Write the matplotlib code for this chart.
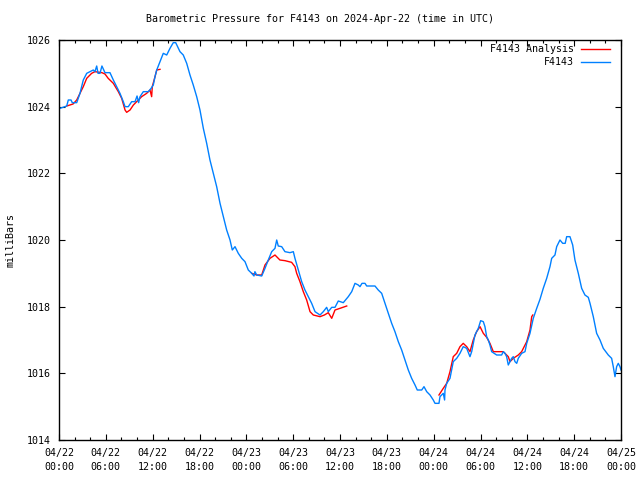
import matplotlib
matplotlib.use("Agg")
import matplotlib.pyplot as plt
from matplotlib.ticker import MultipleLocator

# hours since 2024-04-22 00:00 UTC, pressure in millibars
obs_hours = [0.13, 0.99, 1.19, 1.54, 1.7, 2.27, 2.69, 3.11, 3.55, 3.97, 4.39, 4.6, 4.83, 5.0, 5.25, 5.5,
             5.89, 6.53, 6.96, 7.39, 7.81, 8.24, 8.46, 8.88, 9.31, 9.74, 10.0, 10.2, 10.38, 10.8, 11.45,
             11.8, 12.08, 12.3, 12.52, 12.94, 13.36, 13.8, 14.22, 14.64, 14.95, 15.5, 15.92, 16.36,
             16.78, 17.2, 17.64, 18.06, 18.49, 18.92, 19.34, 19.77, 20.2, 20.63, 21.05, 21.48, 21.91,
             22.2, 22.55, 22.97, 23.41, 23.83, 24.25, 24.69, 24.98, 25.1, 25.33, 25.97, 26.39, 26.81,
             27.25, 27.67, 27.89, 28.09, 28.53, 28.95, 29.59, 30.02, 30.23, 30.66, 31.09, 31.51, 31.94,
             32.37, 32.8, 33.44, 33.86, 34.29, 34.5, 34.94, 35.36, 35.78, 36.42, 37.06, 37.5, 37.92,
             38.34, 38.56, 38.82, 39.2, 39.42, 40.48, 40.9, 41.34, 41.76, 42.19, 42.62, 43.04, 43.47,
             43.9, 44.33, 44.75, 45.18, 45.61, 45.9, 46.47, 46.76, 47.11, 47.53, 47.95, 48.17, 48.68,
             48.81, 49.23, 49.4, 49.45, 49.67, 50.09, 50.51, 50.95, 51.37, 51.79, 52.23, 52.65, 52.87,
             53.29, 53.72, 54.02, 54.36, 54.57, 54.79, 55.0, 55.21, 55.43, 56.07, 56.71, 56.92, 57.14,
             57.35, 57.56, 57.78, 57.99, 58.2, 58.42, 58.64, 58.84, 59.27, 59.7, 59.92, 60.34, 60.76,
             61.2, 61.62, 62.04, 62.48, 62.9, 63.12, 63.54, 63.76, 64.18, 64.53, 64.85, 65.04, 65.46,
             65.81, 66.1, 66.53, 66.96, 67.38, 67.81, 68.03, 68.45, 68.88, 69.31, 69.73, 70.37, 70.8,
             71.01, 71.23, 71.44, 71.65, 71.87, 72.0]
obs_mb = [1023.95, 1024.02, 1024.2, 1024.2, 1024.12, 1024.12, 1024.4, 1024.8, 1025.0, 1025.05, 1025.1,
          1025.05, 1025.22, 1025.0, 1025.0, 1025.22, 1025.02, 1025.02, 1024.8, 1024.6, 1024.4, 1024.15,
          1024.0, 1024.0, 1024.15, 1024.15, 1024.32, 1024.12, 1024.3, 1024.45, 1024.45, 1024.55,
          1024.65, 1024.9, 1025.1, 1025.35, 1025.6, 1025.55, 1025.75, 1025.92, 1025.92, 1025.65,
          1025.55, 1025.3, 1024.95, 1024.65, 1024.3, 1023.9, 1023.35, 1022.9, 1022.4, 1022.0, 1021.6,
          1021.1, 1020.7, 1020.3, 1020.0, 1019.7, 1019.8, 1019.6, 1019.45, 1019.35, 1019.1, 1019.0,
          1018.92, 1019.05, 1018.95, 1018.92, 1019.15, 1019.4, 1019.65, 1019.75, 1020.0, 1019.82,
          1019.8, 1019.65, 1019.62, 1019.65, 1019.45, 1019.1, 1018.75, 1018.5, 1018.3, 1018.1,
          1017.85, 1017.75, 1017.85, 1017.98, 1017.85, 1017.98, 1017.98, 1018.17, 1018.12, 1018.3,
          1018.45, 1018.7, 1018.65, 1018.6, 1018.7, 1018.7, 1018.62, 1018.62, 1018.5, 1018.4, 1018.1,
          1017.8, 1017.5, 1017.25, 1016.95, 1016.7, 1016.4, 1016.1, 1015.85, 1015.65, 1015.5, 1015.5,
          1015.6, 1015.45, 1015.35, 1015.2, 1015.1, 1015.1, 1015.3, 1015.4, 1015.2, 1015.5, 1015.7,
          1015.85, 1016.35, 1016.45, 1016.6, 1016.8, 1016.75, 1016.5, 1016.65, 1017.15, 1017.35,
          1017.58, 1017.55, 1017.4, 1017.1, 1017.0, 1016.85, 1016.65, 1016.55, 1016.55, 1016.65,
          1016.6, 1016.5, 1016.25, 1016.35, 1016.45, 1016.5, 1016.35, 1016.3, 1016.45, 1016.6,
          1016.65, 1016.9, 1017.2, 1017.65, 1017.95, 1018.22, 1018.55, 1018.85, 1019.2, 1019.45,
          1019.55, 1019.8, 1020.0, 1019.9, 1019.9, 1020.1, 1020.1, 1019.85, 1019.4, 1019.0, 1018.55,
          1018.35, 1018.28, 1018.1, 1017.7, 1017.2, 1017.0, 1016.75, 1016.55, 1016.45, 1016.2,
          1015.9, 1016.2, 1016.3, 1016.2, 1016.1]

ana1_hours = [0.99, 1.8, 2.27, 2.69, 3.11, 3.55, 4.18, 4.6, 5.5, 5.89, 6.3, 6.96, 7.6, 8.03, 8.46,
              8.67, 9.1, 9.53, 9.95, 10.59, 11.23, 11.66, 11.87, 11.95, 12.3, 12.52, 12.94]
ana1_mb = [1024.02, 1024.08, 1024.2, 1024.4, 1024.6, 1024.85, 1025.0, 1025.05, 1025.02, 1024.98,
           1024.85, 1024.7, 1024.45, 1024.25, 1023.9, 1023.83, 1023.9, 1024.05, 1024.15, 1024.3,
           1024.4, 1024.5, 1024.3, 1024.6, 1024.9, 1025.1, 1025.12]
ana2_hours = [24.69, 25.33, 25.97, 26.39, 27.03, 27.67, 28.3, 28.95, 29.8, 30.23, 30.45, 30.87, 31.3,
              31.73, 32.16, 32.58, 33.44, 34.0, 34.5, 34.94, 35.36, 36.0, 36.86]
ana2_mb = [1019.0, 1018.95, 1018.95, 1019.25, 1019.45, 1019.55, 1019.4, 1019.38, 1019.33, 1019.2,
           1019.0, 1018.75, 1018.45, 1018.2, 1017.85, 1017.75, 1017.7, 1017.75, 1017.82, 1017.65,
           1017.9, 1017.95, 1018.02]
ana3_hours = [48.68, 49.23, 49.67, 50.09, 50.51, 50.95, 51.37, 51.79, 52.23, 52.65, 53.07, 53.5, 53.94,
              54.36, 54.79, 55.21, 55.64, 56.92, 57.56, 57.78, 58.2, 58.84, 59.27, 59.92, 60.34, 60.56,
              60.7]
ana3_mb = [1015.35, 1015.55, 1015.7, 1016.05, 1016.5, 1016.6, 1016.8, 1016.9, 1016.8, 1016.65, 1017.0,
           1017.25, 1017.4, 1017.2, 1017.08, 1016.9, 1016.65, 1016.65, 1016.5, 1016.35, 1016.45,
           1016.55, 1016.65, 1016.95, 1017.3, 1017.7, 1017.75]

tick_hours = [0, 6, 12, 18, 24, 30, 36, 42, 48, 54, 60, 66, 72]
tick_labels = ["04/22\n00:00", "04/22\n06:00", "04/22\n12:00", "04/22\n18:00",
               "04/23\n00:00", "04/23\n06:00", "04/23\n12:00", "04/23\n18:00",
               "04/24\n00:00", "04/24\n06:00", "04/24\n12:00", "04/24\n18:00",
               "04/25\n00:00"]
y_ticks = [1014, 1016, 1018, 1020, 1022, 1024, 1026]

FS = 7.2
plt.rcParams['font.family'] = ['DejaVu Sans Mono']
plt.rcParams['font.size'] = FS

fig = plt.figure(figsize=(6.4, 4.8), dpi=100)
ax = fig.add_axes([59/640, 1-440/480, 562/640, 400/480])

red = '#ff0000'
blue = '#0080ff'
ax.plot(ana1_hours, ana1_mb, color=red, lw=1.0, label='F4143 Analysis')
ax.plot(ana2_hours, ana2_mb, color=red, lw=1.0)
ax.plot(ana3_hours, ana3_mb, color=red, lw=1.0)
ax.plot(obs_hours, obs_mb, color=blue, lw=1.0, label='F4143')

ax.set_xlim(0, 72)
ax.set_ylim(1014, 1026)
ax.set_xticks(tick_hours)
ax.set_xticklabels(tick_labels, linespacing=1.45)
ax.xaxis.set_minor_locator(MultipleLocator(2))
ax.set_yticks(y_ticks)
ax.set_yticklabels([str(v) for v in y_ticks])
ax.tick_params(which='both', direction='in', top=True, right=True, color='black')
ax.tick_params(which='major', length=4, width=0.8, pad=6)
ax.tick_params(which='minor', length=2.5, width=0.8)
ax.tick_params(axis='y', pad=6)
for s in ax.spines.values():
    s.set_linewidth(1.0)

ax.set_ylabel('milliBars', labelpad=8)
fig.text(0.5, 1-19/480, 'Barometric Pressure for F4143 on 2024-Apr-22 (time in UTC)',
         ha='center', va='center', fontsize=FS)

ax.legend(loc='upper right', bbox_to_anchor=(0.984, 0.994), frameon=False, markerfirst=False,
          handlelength=2.9, handletextpad=0.7, labelspacing=0.3, borderaxespad=0.0,
          borderpad=0.2, fontsize=FS)

fig.savefig('out.png', dpi=100)
